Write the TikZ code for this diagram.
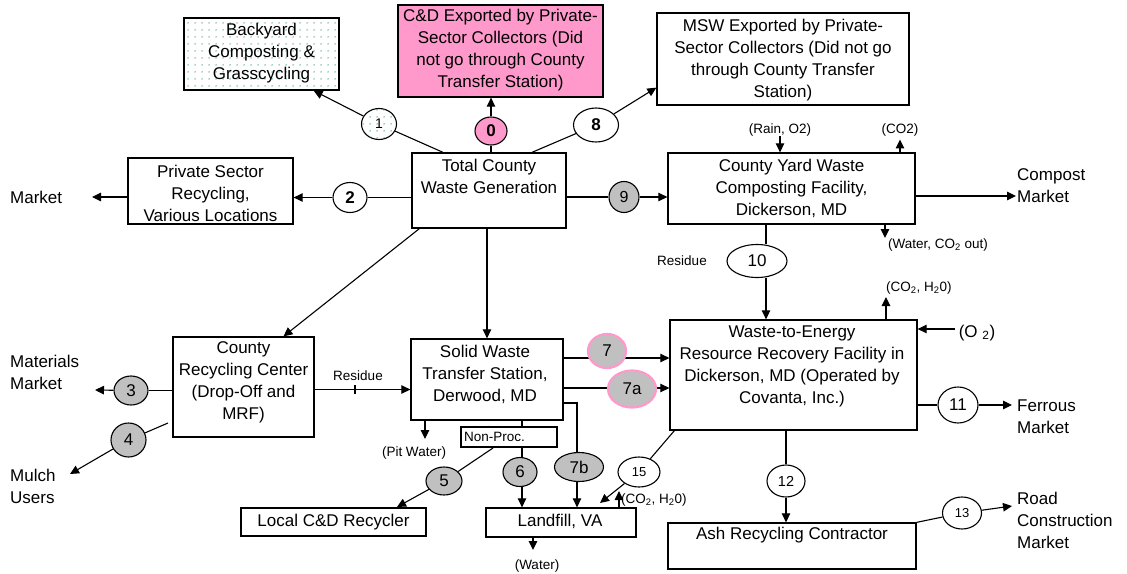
\documentclass[tikz,border=0pt]{standalone}
\usepackage{fontspec}
\setmainfont{Liberation Sans}
\usetikzlibrary{shapes.geometric,arrows.meta,patterns.meta}
\definecolor{pinkf}{RGB}{255,153,204}
\definecolor{grayf}{RGB}{192,192,192}
\definecolor{dotg}{RGB}{40,150,120}
\pgfdeclarelayer{bg}\pgfsetlayers{bg,main}
\begin{document}
\begin{tikzpicture}[x=1pt,y=-1pt,
 box/.style={draw,line width=1.3pt,inner sep=0pt},
 txt/.style={inner sep=0pt,align=center,font=\fontsize{17}{22}\selectfont},
 sml/.style={inner sep=0pt,align=center,font=\fontsize{13.5}{16}\selectfont},
 ell/.style={ellipse,draw,line width=1.1pt,inner sep=0pt,fill=white,font=\fontsize{17}{20}\selectfont},
 gel/.style={ell,fill=grayf},
 pel/.style={gel,draw=pinkf,line width=2.2pt},
 con/.style={line width=1.1pt},
 arr/.style={con,-{Triangle[length=9pt,width=8.5pt]}},
 dotfill/.style={postaction={pattern={Dots[distance=6.5pt,radius=0.75pt]},pattern color=dotg}},
]
\useasboundingbox (0,0) rectangle (1127,573);
% boxes
\node[box,minimum width=155pt,minimum height=72pt,preaction={fill=white},dotfill] (by) at (261.5,54) {};
\node[box,fill=pinkf,minimum width=205pt,minimum height=92pt] (cd) at (500.5,51) {};
\node[box,minimum width=252pt,minimum height=92pt] (msw) at (783,59) {};
\node[box,minimum width=154pt,minimum height=75pt] (tc) at (489,190.5) {};
\node[box,minimum width=165pt,minimum height=66pt] (ps) at (210.5,191) {};
\node[box,minimum width=247pt,minimum height=71pt] (yard) at (791.5,188.5) {};
\node[box,minimum width=141pt,minimum height=100pt] (crc) at (243.5,387) {};
\node[box,minimum width=152pt,minimum height=81pt] (sw) at (487,379.5) {};
\node[box,minimum width=247pt,minimum height=110pt] (wte) at (793.5,375) {};
\node[box,minimum width=248pt,minimum height=46pt] (ash) at (792,546) {};
\node[box,minimum width=96pt,minimum height=20pt] (np) at (509,437) {};
\node[box,minimum width=185pt,minimum height=28pt] (lcd) at (333.5,522) {};
\node[box,minimum width=150pt,minimum height=29pt] (lf) at (561,522.5) {};
% box texts
\node[txt] (byt) at (261.5,53) {Backyard\\Composting \&\\Grasscycling};
\node[txt] (cdt) at (500.5,50) {C\&D Exported by Private-\\Sector Collectors (Did\\not go through County\\Transfer Station)};
\node[txt] (mswt) at (783,60) {MSW Exported by Private-\\Sector Collectors (Did not go\\through County Transfer\\Station)};
\node[txt] (tct) at (489,176.5) {Total County\\Waste Generation};
\node[txt] (pst) at (210.5,193.5) {Private Sector\\Recycling,\\Various Locations};
\node[txt] (yardt) at (791.5,188) {County Yard Waste\\Composting Facility,\\Dickerson, MD};
\node[txt] (crct) at (243.5,382) {County\\Recycling Center\\(Drop-Off and\\MRF)};
\node[txt] (swt) at (485,374) {Solid Waste\\Transfer Station,\\Derwood, MD};
\node[txt] (wtet) at (792,366) {Waste-to-Energy\\Resource Recovery Facility in\\Dickerson, MD (Operated by\\Covanta, Inc.)};
\node[txt] (asht) at (792,535) {Ash Recycling Contractor};
\node[txt] (lcdt) at (333.5,522) {Local C\&D Recycler};
\node[txt] (lft) at (560,521) {Landfill, VA};
\node[sml,anchor=west] (npt) at (464,437) {Non-Proc.};
% free labels
\node[txt,anchor=west,align=left] (mk) at (10,197) {Market};
\node[txt,anchor=west,align=left] (cmk) at (1017,186) {Compost\\Market};
\node[txt,anchor=west,align=left] (fmk) at (1017,416.5) {Ferrous\\Market};
\node[txt,anchor=west,align=left] (rcm) at (1017,520) {Road\\Construction\\Market};
\node[txt,anchor=west,align=left] (mmk) at (10,372.5) {Materials\\Market};
\node[txt,anchor=west,align=left] (mul) at (10,486.5) {Mulch\\Users};
\node[sml] (rain) at (780,130) {(Rain, O2)};
\node[sml] (co2a) at (900,130) {(CO2)};
\node[sml,anchor=west] (wco) at (888,245) {(Water, CO\textsubscript{2} out)};
\node[sml] (res1) at (682,261) {Residue};
\node[sml,anchor=west] (co2b) at (886,288) {(CO\textsubscript{2}, H\textsubscript{2}0)};
\node[txt] (o2) at (977,333) {(O \textsubscript{2})};
\node[sml] (res2) at (358,376) {Residue};
\node[sml] (pit) at (414,453) {(Pit Water)};
\node[sml] (wat) at (537,566) {(Water)};
\node[sml,anchor=west] (co2c) at (621,500) {(CO\textsubscript{2}, H\textsubscript{2}0)};
% ellipses
\node[ell,fill=pinkf,minimum width=32pt,minimum height=28pt,font=\bfseries\fontsize{17}{20}\selectfont] (e0) at (491,131) {0};
\node[ell,minimum width=35pt,minimum height=31pt,font=\fontsize{14}{16}\selectfont,dotfill] (e1) at (379,124) {1};
\node[ell,minimum width=34pt,minimum height=30pt,font=\bfseries\fontsize{17}{20}\selectfont] (e2) at (350,197.5) {2};
\node[ell,minimum width=45pt,minimum height=34pt,font=\bfseries\fontsize{17}{20}\selectfont] (e8) at (596,125) {8};
\node[gel,minimum width=30pt,minimum height=31pt,font=\fontsize{16}{18}\selectfont] (e9) at (624,197) {9};
\node[ell,minimum width=60pt,minimum height=33pt] (e10) at (757,261) {10};
\node[ell,minimum width=40pt,minimum height=36pt] (e11) at (958,405) {11};
\node[ell,minimum width=38pt,minimum height=32pt,font=\fontsize{14.5}{16}\selectfont] (e12) at (786,481) {12};
\node[ell,minimum width=39pt,minimum height=32pt,font=\fontsize{13}{15}\selectfont] (e13) at (962,513) {13};
\node[ell,minimum width=42pt,minimum height=30pt,font=\fontsize{13}{15}\selectfont] (e15) at (639,472) {15};
\node[gel,minimum width=34pt,minimum height=29pt] (e3) at (131,390.5) {3};
\node[gel,minimum width=35pt,minimum height=34pt] (e4) at (128.5,440) {4};
\node[gel,minimum width=36pt,minimum height=28pt] (e5) at (444,481) {5};
\node[gel,minimum width=34pt,minimum height=29pt] (e6) at (520,472) {6};
\node[pel,minimum width=38pt,minimum height=34pt] (e7) at (607,351) {7};
\node[pel,minimum width=48pt,minimum height=37pt] (e7a) at (632,389) {7a};
\node[gel,minimum width=49pt,minimum height=29pt] (e7b) at (579,467) {7b};
% coordinates
\coordinate (mkA) at (92,197);
\coordinate (c10) at (766,0);
\coordinate (c2a) at (886,297);
\coordinate (c3) at (955,329);
\coordinate (cmA) at (1016,196);
\coordinate (wcoA) at (885,238);
\coordinate (fmA) at (1012,405);
\coordinate (rcA) at (1012,506);
\coordinate (c7) at (0,358);
\coordinate (c7a) at (0,388);
\coordinate (c7b) at (577,403);
\coordinate (cR) at (0,389.5);
\coordinate (tk) at (355,389.5);
\coordinate (mmA) at (95,390);
\coordinate (c4) at (168,423);
\coordinate (muA) at (70,474);
\coordinate (np5) at (493,448);
\coordinate (lcdA) at (397,507);
\coordinate (c6) at (522,0);
\coordinate (cp) at (425,439);
\coordinate (cw) at (533,550);
\coordinate (cl) at (619,491);
\coordinate (lf15) at (600,503);
\begin{pgfonlayer}{bg}
\draw[con] ([xshift=-46pt]tc.north) -- (e1);
\draw[arr] (e1) -- ([xshift=-26pt]by.south east);
\draw[con] (tc.north -| e0) -- (e0);
\draw[arr] (e0) -- (e0 |- cd.south);
\draw[con] ([xshift=43pt]tc.north) -- (e8);
\draw[arr] (e8) -- ([yshift=18pt]msw.south west);
\draw[con] (tc.west |- e2) -- (e2);
\draw[arr] (e2) -- (ps.east |- e2);
\draw[arr] (ps.west |- mkA) -- (mkA);
\draw[con] (tc.east |- e9) -- (e9);
\draw[arr] (e9) -- (yard.west |- e9);
\draw[arr] (rain.south) -- (rain.south |- yard.north);
\draw[arr] (yard.north -| co2a) -- ([yshift=-3pt]co2a.south);
\draw[arr] (yard.south -| wcoA) -- (wcoA);
\draw[arr] (yard.east |- cmA) -- (cmA);
\draw[con] (yard.south -| c10) -- (c10 |- e10.north);
\draw[arr] (c10 |- e10.south) -- (c10 |- wte.north);
\draw[arr] (wte.north -| c2a) -- (c2a);
\draw[arr] (c3) -- (wte.east |- c3);
\draw[con] (wte.east |- e11) -- (e11);
\draw[arr] (e11) -- (fmA);
\draw[con] (wte.south -| e12) -- (e12);
\draw[arr] (e12) -- (e12 |- ash.north);
\draw[con] (ash.north east) -- (e13);
\draw[arr] (e13) -- (rcA);
\draw[con] ([xshift=5pt]wte.south west) -- (e15);
\draw[arr] (e15) -- (lf15);
\draw[arr] (sw.east |- c7) -- (wte.west |- c7);
\draw[arr] (sw.east |- c7a) -- (wte.west |- c7a);
\draw[con] (sw.east |- c7b) -- (c7b) -- (c7b |- e7b.north);
\draw[arr] (c7b |- e7b.south) -- (c7b |- lf.north);
\draw[arr] (crc.east |- cR) -- (sw.west |- cR);
\draw[con] ([yshift=4.5pt]tk) -- ([yshift=-4.5pt]tk);
\draw[con] (crc.west |- e3) -- (e3);
\draw[arr] (e3) -- (mmA);
\draw[con] (c4) -- (e4);
\draw[arr] (e4) -- (muA);
\draw[con] (np5) -- (e5);
\draw[arr] (e5) -- (lcdA);
\draw[con] (sw.south -| c6) -- (np.north -| c6);
\draw[con] (np.south -| c6) -- (c6 |- e6.north);
\draw[arr] (c6 |- e6.south) -- (c6 |- lf.north);
\draw[arr] (sw.south -| cp) -- (cp);
\draw[arr] (lf.south -| cw) -- (cw);
\draw[arr] (lf.north -| cl) -- (cl);
\draw[arr] ([xshift=8pt]tc.south west) -- ([xshift=40pt]crc.north);
\draw[arr] (tc.south -| sw.north) -- (sw.north);
\end{pgfonlayer}
\end{tikzpicture}
\end{document}
